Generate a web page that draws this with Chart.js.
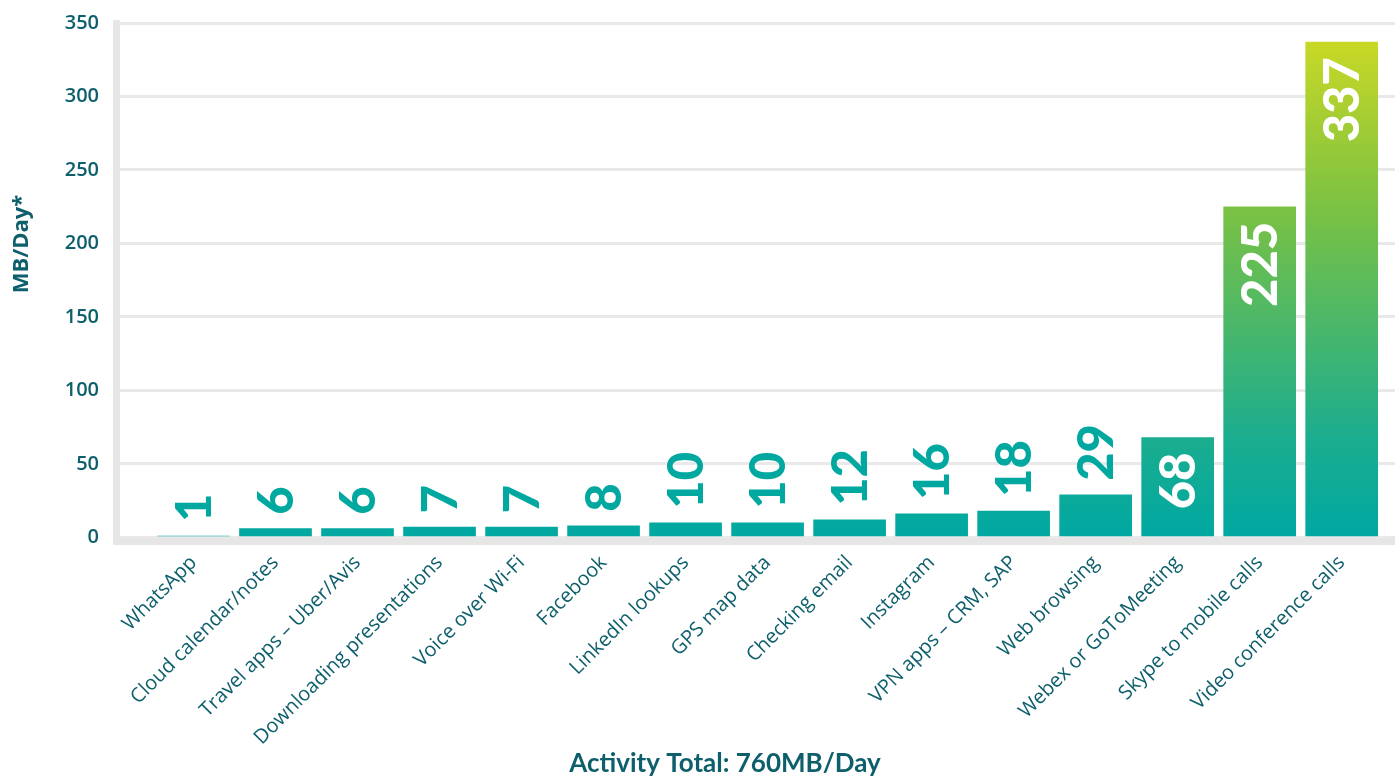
<!DOCTYPE html>
<html>
<head>
<meta charset="utf-8">
<script src="https://cdn.jsdelivr.net/npm/chart.js@4"></script>
<style>
    html, body { margin: 0; padding: 0; background: #ffffff; overflow: hidden; }
    #wrap { width: 1395px; height: 776px; }
</style>
</head>
<body>
<div id="wrap"><canvas id="grafico" width="1395" height="776"></canvas></div>
<script>
// Datos del gráfico
const categorias = [
    "WhatsApp", "Cloud calendar/notes", "Travel apps – Uber/Avis", "Downloading presentations",
    "Voice over Wi-Fi", "Facebook", "LinkedIn lookups", "GPS map data", "Checking email",
    "Instagram", "VPN apps – CRM, SAP", "Web browsing", "Webex or GoToMeeting",
    "Skype to mobile calls", "Video conference calls"
];
const valores = [1, 6, 6, 7, 7, 8, 10, 10, 12, 16, 18, 29, 68, 225, 337];
const ticksY = [0, 50, 100, 150, 200, 250, 300, 350];
const tituloY = "MB/Day*";
const tituloX = "Activity Total: 760MB/Day";

const textoOscuro = '#0e5f6c';
const teal = '#00a8a0';
const fuente = '"Open Sans", Lato, sans-serif';
const fuenteNum = 'Lato, "Open Sans", sans-serif';

// Gradiente vertical compartido por todas las barras
function fondoBarra(context) {
    const chart = context.chart;
    if (!chart.chartArea || !chart.scales.y) return teal;
    const y0 = chart.scales.y.getPixelForValue(0);
    const y1 = chart.scales.y.getPixelForValue(Math.max(...valores));
    const g = chart.ctx.createLinearGradient(0, y0, 0, y1);
    g.addColorStop(0, '#00a8a2');
    g.addColorStop(0.2, '#1bad8f');
    g.addColorStop(0.67, '#7cc242');
    g.addColorStop(1, '#c8d826');
    return g;
}

// Etiquetas de valor verticales y títulos de ejes
const pluginEtiquetas = {
    id: 'etiquetasValor',
    afterDatasetsDraw(chart) {
        const ctx = chart.ctx;
        const meta = chart.getDatasetMeta(0);
        ctx.save();
        ctx.font = '900 49px ' + fuenteNum;
        ctx.textBaseline = 'middle';
        meta.data.forEach((bar, i) => {
            const txt = String(valores[i]);
            const tw = ctx.measureText(txt).width;
            const alto = bar.base - bar.y;
            ctx.save();
            if (alto > tw + 30) {
                ctx.translate(bar.x, bar.y + 15);
                ctx.rotate(-Math.PI / 2);
                ctx.textAlign = 'right';
                ctx.fillStyle = '#ffffff';
            } else {
                ctx.translate(bar.x, bar.y - 14);
                ctx.rotate(-Math.PI / 2);
                ctx.textAlign = 'left';
                ctx.fillStyle = teal;
            }
            ctx.fillText(txt, 0, 2);
            ctx.restore();
        });

        // Título eje Y
        ctx.save();
        ctx.fillStyle = textoOscuro;
        ctx.font = 'bold 22px ' + fuente;
        ctx.textAlign = 'center';
        ctx.textBaseline = 'middle';
        ctx.translate(22, 244);
        ctx.rotate(-Math.PI / 2);
        ctx.fillText(tituloY, 0, 0);
        ctx.restore();

        // Título eje X
        ctx.fillStyle = textoOscuro;
        ctx.font = 'bold 26px ' + fuenteNum;
        ctx.textAlign = 'center';
        ctx.textBaseline = 'middle';
        ctx.fillText(tituloX, 725, 764);
        ctx.restore();
    }
};

const ctx1 = document.getElementById("grafico").getContext('2d');
new Chart(ctx1, {
    type: 'bar',
    data: {
        datasets: [{
            label: "MB/Day",
            data: valores.map((v, i) => ({ x: i, y: v })),
            backgroundColor: fondoBarra,
            barThickness: 72,
            borderWidth: 0
        }]
    },
    options: {
        responsive: false,
        animation: false,
        devicePixelRatio: 1,
        layout: { padding: { top: 23, right: 0, left: 0, bottom: 0 } },
        plugins: {
            legend: { display: false },
            tooltip: { enabled: false }
        },
        scales: {
            x: {
                type: 'linear',
                offset: false,
                min: -0.945,
                max: 14.65,
                grid: { display: false, drawTicks: false, offset: false },
                border: { display: true, color: '#e6e6e6', width: 7 },
                ticks: {
                    stepSize: 1,
                    includeBounds: false,
                    autoSkip: false,
                    maxRotation: 45,
                    minRotation: 45,
                    padding: 10,
                    color: textoOscuro,
                    font: { family: fuente, size: 20 },
                    callback: v => categorias[v] || ''
                },
                afterFit: s => { s.height = 235; }
            },
            y: {
                min: -2.4,
                max: 350,
                grid: { color: '#e9e9e9', lineWidth: 3, drawTicks: false },
                border: { display: true, color: '#e6e6e6', width: 7 },
                afterBuildTicks: s => { s.ticks = ticksY.map(v => ({ value: v })); },
                ticks: {
                    padding: 17,
                    color: textoOscuro,
                    font: { family: fuente, size: 20, weight: '600' }
                },
                afterFit: s => { s.width = 116; s.paddingTop = 0; s.paddingBottom = 0; }
            }
        }
    },
    plugins: [pluginEtiquetas]
});
</script>
</body>
</html>
